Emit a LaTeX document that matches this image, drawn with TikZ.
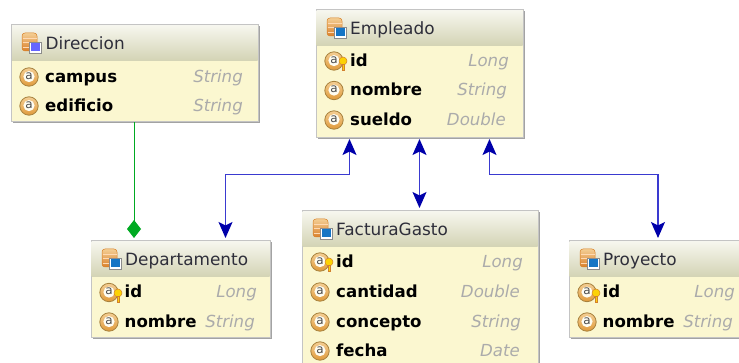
\documentclass[tikz,border=0pt]{standalone}
\usepackage{fontspec}
\setmainfont{DejaVu Sans}
\usetikzlibrary{arrows.meta,calc,shadows}
\definecolor{bodyfill}{HTML}{FBF7D0}
\definecolor{boxline}{HTML}{C4C4C4}
\definecolor{headtop}{HTML}{F6F6EE}
\definecolor{headbot}{HTML}{D3D3B4}
\definecolor{titletxt}{HTML}{2E2E3A}
\definecolor{typetxt}{HTML}{ABABAB}
\definecolor{linkblue}{HTML}{3A3AD0}
\definecolor{tipblue}{HTML}{0000AA}
\definecolor{linkgreen}{HTML}{00AA22}
\definecolor{ringgold}{HTML}{E09A3A}
\definecolor{ringedge}{HTML}{A8823E}
\definecolor{dbdark}{HTML}{D9802C}
\definecolor{dblight}{HTML}{F4CE94}
\tikzset{
  x=1pt,y=-1pt,
  entity/.style={draw=boxline,line width=1pt,fill=bodyfill,inner sep=0pt,rectangle,
    copy shadow={shadow xshift=1.5pt,shadow yshift=-1.5pt,fill=black!45,draw=none,opacity=.8}},
  headshade/.style={top color=headtop,bottom color=headbot,draw=none},
  titlelabel/.style={font=\fontsize{16.9}{18}\selectfont,text=titletxt,anchor=base west,inner sep=0pt},
  attrlabel/.style={font=\fontsize{16.6}{18}\selectfont\bfseries,text=black,anchor=base west,inner sep=0pt},
  typelabel/.style={font=\fontsize{16.6}{18}\selectfont\itshape,text=typetxt,anchor=base east,inner sep=0pt},
  aggr/.style={draw=linkgreen,line width=1pt,-{Diamond[length=18pt,width=14pt,fill=linkgreen,color=linkgreen]},shorten >=2.5pt},
  assoc/.style={draw=linkblue,line width=1.2pt,{Stealth[length=16pt,width=14pt,inset=3.5pt,color=tipblue]}-{Stealth[length=16pt,width=14pt,inset=3.5pt,color=tipblue]},shorten >=2.5pt,shorten <=0.5pt},
  pics/attricon/.style={code={
    \shade[top color=dblight,bottom color=ringgold,draw=ringedge,line width=.8pt] (0,0) circle[radius=9.2];
    \fill[white!75!bodyfill] (0,-.4) circle[radius=5.6];
    \node[inner sep=0pt,font=\fontsize{12}{12}\selectfont,text=black!70] at (0,-.8) {a};
  }},
  pics/keyicon/.style={code={
    \fill[yellow!70!orange,draw=brown!70!orange,line width=.5pt] (4,1) circle[radius=4];
    \fill[yellow!70!orange,draw=brown!70!orange,line width=.5pt] (2.8,4.5) rectangle (5.4,10);
  }},
  pics/dbicon/.style n args={1}{code={
    \shade[top color=dblight,bottom color=dbdark,draw=brown!60!orange,line width=.5pt,rounded corners=3pt] (-9,-10) rectangle (6,8);
    \draw[white!70!orange,line width=.7pt] (-8.5,-5) -- (5.5,-5) (-8.5,-.5) -- (5.5,-.5) (-8.5,4) -- (-1,4);
    \fill[white,draw=black!45,line width=.5pt] (-2,-1) rectangle (10,10);
    \fill[#1] (-.5,.5) rectangle (8.5,8.5);
  }}
}
\newcommand{\entitybox}[7]{% name x1 y1 x2 y2 headbottom title
  \node[entity,minimum width=#4-#2,minimum height=#5-#3] (#1) at ({(#2+#4)/2},{(#3+#5)/2}) {};
  \shade[headshade] (#2+.5,#3+.5) rectangle (#4-.5,#6);
  \node[titlelabel] (#1title) at (#2+34,#3+24.5) {#7};
}
\newcommand{\attrrow}[5]{% name iconx textx y label
  \pic at (#2,#4) {attricon};
  \node[attrlabel] (#1) at (#3,#4+5.5) {#5};
}
\begin{document}
\begin{tikzpicture}
\useasboundingbox[fill=white] (0,0) rectangle (739,363);
\begin{scope}
\clip (0,0) rectangle (739,363);

% Direccion
\entitybox{dir}{11.5}{25}{258}{122}{61}{Direccion}
\pic at (31,43) {dbicon={blue!60!white}};
\attrrow{dirA}{29}{45}{77}{campus}
\node[typelabel] (dirAt) at (243,82.5) {String};
\attrrow{dirB}{29}{45}{106}{edificio}
\node[typelabel] (dirBt) at (243,111.5) {String};

% Empleado
\entitybox{emp}{316}{10}{523}{138}{46}{Empleado}
\pic at (336,28) {dbicon={cyan!55!blue}};
\attrrow{empA}{334}{350}{61}{id}
\pic at (339,60) {keyicon};
\node[typelabel] (empAt) at (509,66.5) {Long};
\attrrow{empB}{334}{350}{90.5}{nombre}
\node[typelabel] (empBt) at (507,96) {String};
\attrrow{empC}{334}{350}{120}{sueldo}
\node[typelabel] (empCt) at (506,125.5) {Double};

% Departamento
\entitybox{dep}{91}{241}{270}{338}{277}{Departamento}
\pic at (111,259) {dbicon={cyan!55!blue}};
\attrrow{depA}{109}{124.5}{292.5}{id}
\pic at (114,292) {keyicon};
\node[typelabel] (depAt) at (257,298) {Long};
\attrrow{depB}{109}{124.5}{322}{nombre}
\node[typelabel] (depBt) at (255,327.5) {String};

% FacturaGasto
\entitybox{fac}{302}{211}{538}{400}{247}{FacturaGasto}
\pic at (322,229) {dbicon={cyan!55!blue}};
\attrrow{facA}{320}{336}{262}{id}
\pic at (325,261) {keyicon};
\node[typelabel] (facAt) at (523,267.5) {Long};
\attrrow{facB}{320}{336}{292}{cantidad}
\node[typelabel] (facBt) at (520,297.5) {Double};
\attrrow{facC}{320}{336}{322}{concepto}
\node[typelabel] (facCt) at (521,327.5) {String};
\attrrow{facD}{320}{336}{351}{fecha}
\node[typelabel] (facDt) at (520,356.5) {Date};

% Proyecto
\entitybox{pro}{569}{241}{790}{338}{277}{Proyecto}
\pic at (589,259) {dbicon={cyan!55!blue}};
\attrrow{proA}{587}{602.5}{292.5}{id}
\pic at (592,292) {keyicon};
\node[typelabel] (proAt) at (735,298) {Long};
\attrrow{proB}{587}{602.5}{322}{nombre}
\node[typelabel] (proBt) at (733,327.5) {String};

% Connectors
\draw[aggr] (dir.south -| 134,0) -- (dep.north -| 134,0);
\draw[assoc] ($(emp.south)+(-70,0)$) -- ++(0,36) -| ($(dep.north)+(45,0)$);
\draw[assoc] (emp.south) -- (fac.north -| emp.south);
\draw[assoc] ($(emp.south)+(70,0)$) -- ++(0,36) -| (pro.north -| 658,0);
\end{scope}
\end{tikzpicture}
\end{document}
